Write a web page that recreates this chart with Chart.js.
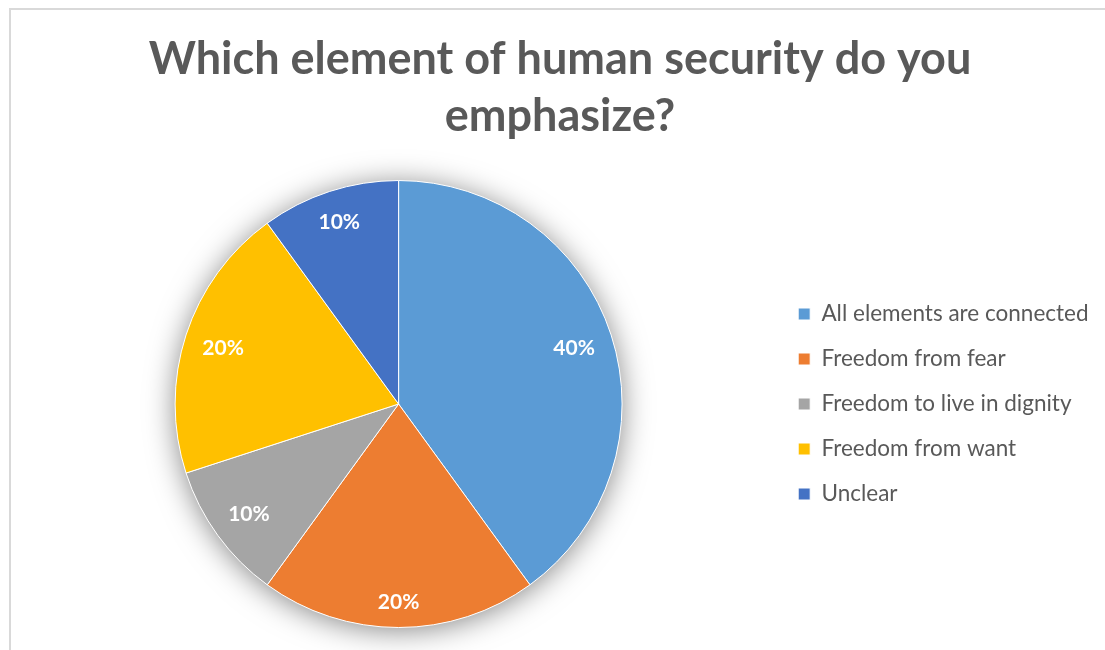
<!DOCTYPE html>
<html>
<head>
<meta charset="utf-8">
<title>Human security</title>
<script src="https://cdn.jsdelivr.net/npm/chart.js@4.4.1/dist/chart.umd.min.js"></script>
<style>
  html, body { margin: 0; padding: 0; background: #fff; }
  #wrap { position: relative; width: 1105px; height: 650px; overflow: hidden; }
  #frame {
    position: absolute; left: 9px; top: 8px; width: 1200px; height: 700px;
    border-left: 2px solid #d9d9d9; border-top: 2px solid #d9d9d9;
  }
  #pie { position: absolute; left: 0; top: 0; }
</style>
</head>
<body>
<div id="wrap">
  <div id="frame"></div>
  <canvas id="pie" width="1105" height="650"></canvas>
</div>
<script>
const titleLines = ["Which element of human security do you", "emphasize?"];
const categories = [
  "All elements are connected",
  "Freedom from fear",
  "Freedom to live in dignity",
  "Freedom from want",
  "Unclear"
];
const shares = [40, 20, 10, 20, 10];
const colors = ["#5b9bd5", "#ed7d31", "#a5a5a5", "#ffc000", "#4472c4"];

// soft glow behind the whole pie
const pieShadow = {
  id: "pieShadow",
  beforeDatasetsDraw(chart) {
    const arc = chart.getDatasetMeta(0).data[0];
    if (!arc) return;
    const ctx = chart.ctx;
    ctx.save();
    ctx.shadowColor = "rgba(0,0,0,0.5)";
    ctx.shadowBlur = 30;
    ctx.shadowOffsetY = 3;
    ctx.fillStyle = "#fff";
    ctx.beginPath();
    ctx.arc(arc.x, arc.y, arc.outerRadius - 1, 0, Math.PI * 2);
    ctx.fill();
    ctx.restore();
  }
};

// percent labels pushed out until the text box touches an inner ring
const sliceLabels = {
  id: "sliceLabels",
  afterDatasetsDraw(chart) {
    const ctx = chart.ctx;
    const meta = chart.getDatasetMeta(0);
    ctx.save();
    ctx.font = "bold 21px Lato";
    ctx.fillStyle = "#fff";
    ctx.textAlign = "center";
    ctx.textBaseline = "middle";
    meta.data.forEach((arc, i) => {
      const text = shares[i] + "%";
      const w = ctx.measureText(text).width;
      const h = 16;
      const mid = (arc.startAngle + arc.endAngle) / 2;
      const ux = Math.cos(mid), uy = Math.sin(mid);
      const limit = arc.outerRadius - 17;
      let d = 0;
      while (d < limit) {
        const cx = Math.abs(d * ux) + w / 2;
        const cy = Math.abs(d * uy) + h / 2;
        if (Math.hypot(cx, cy) > limit) break;
        d += 0.5;
      }
      ctx.fillText(text, arc.x + d * ux, arc.y + d * uy + 1);
    });
    ctx.restore();
  }
};

new Chart(document.getElementById("pie"), {
  type: "pie",
  data: {
    labels: categories,
    datasets: [{
      data: shares,
      backgroundColor: colors,
      borderColor: "#ffffff",
      borderWidth: 1
    }]
  },
  options: {
    responsive: false,
    animation: false,
    layout: { padding: { left: 21.5, right: 6.5, top: 0, bottom: 22 } },
    plugins: {
      title: {
        display: true,
        text: titleLines,
        color: "#595959",
        font: { family: "Lato", weight: "bold", size: 45, lineHeight: 1.267 },
        padding: { top: 31, bottom: 35 }
      },
      legend: {
        position: "right",
        align: "center",
        title: {
          display: true,
          text: " ",
          font: { size: 10 },
          padding: { top: 168, bottom: 0 }
        },
        labels: {
          color: "#595959",
          font: { family: "Lato", size: 22.5 },
          boxWidth: 12,
          boxHeight: 12,
          padding: 22.5
        }
      },
      tooltip: { enabled: false }
    }
  },
  plugins: [pieShadow, sliceLabels]
});
</script>
</body>
</html>
